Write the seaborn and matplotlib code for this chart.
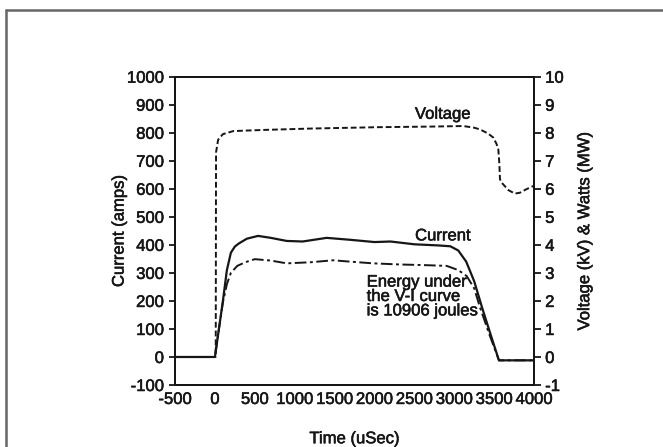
import matplotlib
matplotlib.use("Agg")
import matplotlib.pyplot as plt
import matplotlib.patheffects as pe
from matplotlib.lines import Line2D
import seaborn as sns
import pandas as pd

# Pulse waveforms (time in microseconds)
time_current = [-500, 0, 50, 100, 150, 200, 250, 300, 400, 540, 700, 900, 1100,
                1400, 1700, 2000, 2200, 2500, 2800, 2950, 3050, 3150, 3250,
                3350, 3450, 3560, 4000]
current_amps = [0, 0, 100, 200, 310, 372, 394, 405, 422, 432, 425, 414, 412,
                425, 418, 410, 412, 402, 398, 395, 380, 340, 270,
                175, 85, -12, -12]

time_voltage = [-500, 0, 10, 14, 40, 100, 231, 600, 1200, 2069, 2700, 3113,
                3250, 3322, 3420, 3489, 3530, 3552, 3565, 3573, 3594, 3680,
                3760, 3823, 3900, 3990]
voltage_kv = [0, 0, 0, 7.3, 7.75, 7.95, 8.06, 8.1, 8.15, 8.2, 8.22, 8.24,
              8.18, 8.12, 7.98, 7.83, 7.6, 7.41, 6.9, 6.34, 6.22, 5.95,
              5.83, 5.86, 5.98, 6.1]

time_power = [-500, 0, 50, 100, 150, 200, 280, 380, 500, 700, 900, 1200, 1480,
              1700, 1985, 2320, 2600, 2905, 3050, 3155, 3250, 3322, 3447,
              3560, 4000]
power_mw = [0, 0, 1.0, 1.95, 2.6, 3.0, 3.25, 3.38, 3.49, 3.44, 3.34, 3.38,
            3.45, 3.40, 3.34, 3.30, 3.28, 3.25, 3.10, 2.89, 2.45, 1.77, 0.75,
            -0.12, -0.12]

x_ticks = [-500, 0, 500, 1000, 1500, 2000, 2500, 3000, 3500, 4000]
left_ticks = [-100, 0, 100, 200, 300, 400, 500, 600, 700, 800, 900, 1000]
right_ticks = [-1, 0, 1, 2, 3, 4, 5, 6, 7, 8, 9, 10]

energy_note = "Energy under\nthe V-I curve\nis 10906 joules"

sns.set_theme(style="white")
plt.rcParams["font.family"] = ["Liberation Sans", "DejaVu Sans"]
plt.rcParams["axes.unicode_minus"] = False

ink = "#161616"
heavy = [pe.withStroke(linewidth=0.4, foreground=ink)]

fig = plt.figure(figsize=(6.63, 4.47), dpi=100)
ax = fig.add_axes([0.264, 0.1387, 0.5415, 0.6897])
ax2 = ax.twinx()

df_cur = pd.DataFrame({"t": time_current, "v": current_amps})
df_volt = pd.DataFrame({"t": time_voltage, "v": voltage_kv})
df_pow = pd.DataFrame({"t": time_power, "v": power_mw})

sns.lineplot(data=df_cur, x="t", y="v", ax=ax, color=ink, linewidth=1.6,
             estimator=None)
sns.lineplot(data=df_volt, x="t", y="v", ax=ax2, color=ink, linewidth=1.4,
             estimator=None)
sns.lineplot(data=df_pow, x="t", y="v", ax=ax2, color=ink, linewidth=1.4,
             estimator=None)
ax2.lines[0].set_dashes([3, 1.5])
ax2.lines[1].set_dashes([6, 1.8, 1.5, 1.8])

ax.set_xlim(-500, 4000)
ax.set_ylim(-100, 1000)
ax2.set_ylim(-1, 10)
ax.set_xticks(x_ticks)
ax.set_yticks(left_ticks)
ax2.set_yticks(right_ticks)
ax.set_xticklabels([str(v) for v in x_ticks])
ax.set_yticklabels([str(v) for v in left_ticks])
ax2.set_yticklabels([str(v) for v in right_ticks])

for a in (ax, ax2):
    for s in a.spines.values():
        s.set_color(ink)
        s.set_linewidth(1.4)
    a.grid(False)

ax.tick_params(axis="y", direction="out", length=4, width=1.3, pad=4,
               labelsize=12, colors=ink)
ax.tick_params(axis="x", direction="in", length=3, width=1.3, pad=5,
               labelsize=12, colors=ink)
ax2.tick_params(axis="y", direction="out", length=5, width=1.3, pad=3,
                labelsize=12, colors=ink)

ax.set_xlabel("Time (uSec)", fontsize=12, color=ink)
ax.set_ylabel("Current (amps)", fontsize=12, color=ink)
ax2.set_ylabel("Voltage (kV) & Watts (MW)", fontsize=12, color=ink)
ax.xaxis.set_label_coords(0.5, -0.15)
ax.yaxis.set_label_coords(-0.135, 0.5)
ax2.yaxis.set_label_coords(1.12, 0.5)

ax.text(2858, 866, "Voltage", ha="center", va="center", fontsize=12, color=ink)
ax.text(2858, 432, "Current", ha="center", va="center", fontsize=12, color=ink)
ax.text(1902, 294, energy_note, ha="left", va="top", fontsize=12, color=ink,
        linespacing=0.95)

texts = (ax.get_xticklabels() + ax.get_yticklabels() + ax2.get_yticklabels()
         + [ax.xaxis.label, ax.yaxis.label, ax2.yaxis.label] + ax.texts)
for t in texts:
    t.set_path_effects(heavy)

# Page frame on the top and left edges
fig.add_artist(Line2D([5.5 / 663, 1.0], [1 - 10 / 447, 1 - 10 / 447],
                      transform=fig.transFigure, color="#666666", linewidth=1.8))
fig.add_artist(Line2D([5.5 / 663, 5.5 / 663], [0.0, 1 - 10 / 447],
                      transform=fig.transFigure, color="#666666", linewidth=1.8))

fig.savefig("out.png", dpi=100)
